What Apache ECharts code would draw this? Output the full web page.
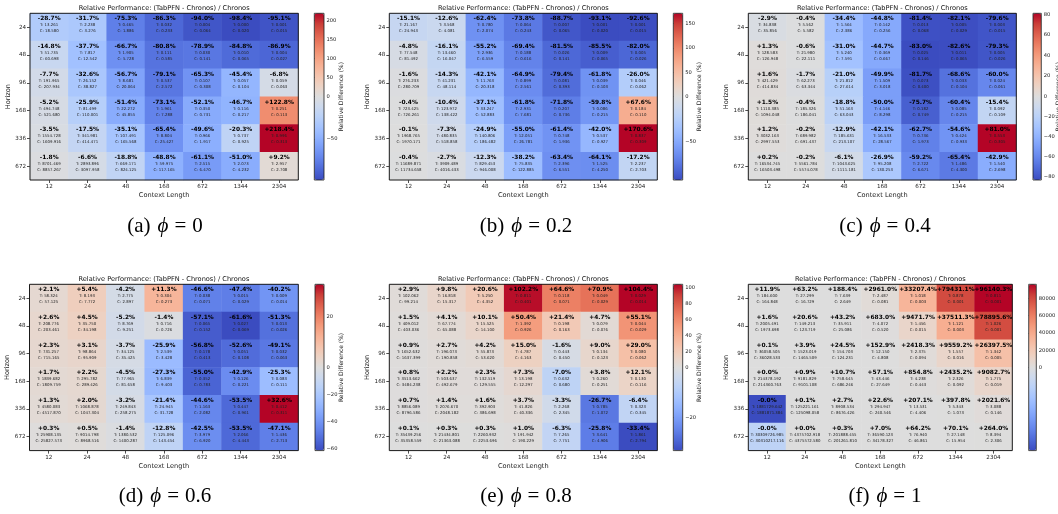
<!DOCTYPE html>
<html><head><meta charset="utf-8">
<script src="https://cdn.jsdelivr.net/npm/echarts@6/dist/echarts.min.js"></script>
<style>html,body{margin:0;padding:0;background:#fff}#c{width:1058px;height:514px}</style>
</head><body><div id="c"></div>
<script>
// ---------------- DATA ----------------
const contextLengths = ['12','24','48','168','672','1344','2304'];
const horizons = ['24','48','96','168','336','672'];
const phiLabels = ['0','0.2','0.4','0.6','0.8','1'];
const panelLetters = ['a','b','c','d','e','f'];
const chartTitle = 'Relative Performance: (TabPFN - Chronos) / Chronos';

// relative difference (%), rows = horizons, cols = context lengths
const pct_phi0 = [
 [-28.7,-31.7,-75.3,-86.3,-94.0,-98.4,-95.1],
 [-14.8,-37.7,-66.7,-80.8,-78.9,-84.8,-86.9],
 [-7.7,-32.6,-56.7,-79.1,-65.3,-45.4,-6.8],
 [-5.2,-25.9,-51.4,-73.1,-52.1,-46.7,122.8],
 [-3.5,-17.5,-35.1,-65.4,-49.6,-20.3,218.4],
 [-1.8,-6.6,-18.8,-48.8,-61.1,-51.0,9.2]];
const T_phi0 = [
 [13.261,2.238,0.465,0.032,0.004,0.000,0.001],
 [51.735,7.817,1.905,0.111,0.030,0.010,0.004],
 [191.965,26.152,8.681,0.537,0.107,0.057,0.059],
 [494.748,81.499,22.272,1.961,0.350,0.116,0.251],
 [1554.728,341.981,107.491,8.804,0.966,0.737,0.996],
 [8701.469,2893.896,669.171,59.975,2.515,2.073,2.957]];
const C_phi0 = [
 [18.580,3.276,1.886,0.233,0.064,0.020,0.015],
 [60.698,12.542,5.728,0.585,0.141,0.065,0.027],
 [207.934,38.827,20.064,2.572,0.308,0.104,0.063],
 [521.680,110.001,45.855,7.288,0.731,0.217,0.113],
 [1609.916,414.471,165.568,25.427,1.917,0.925,0.313],
 [8857.267,3097.958,824.125,117.165,6.470,4.232,2.708]];

const pct_phi02 = [
 [-15.1,-12.6,-62.4,-73.8,-88.7,-93.1,-92.6],
 [-4.8,-16.1,-55.2,-69.4,-81.5,-85.5,-82.0],
 [-1.6,-14.3,-42.1,-64.9,-79.4,-61.8,-26.0],
 [-0.4,-10.4,-37.1,-61.8,-71.8,-59.8,67.6],
 [-0.1,-7.3,-24.9,-55.0,-61.4,-42.0,170.6],
 [-0.4,-2.7,-12.3,-38.2,-63.4,-64.1,-17.2]];
const T_phi02 = [
 [21.167,3.568,0.780,0.064,0.007,0.001,0.001],
 [77.548,13.460,2.936,0.188,0.026,0.009,0.005],
 [276.233,41.231,11.763,0.899,0.081,0.039,0.046],
 [723.425,123.972,33.247,2.931,0.207,0.086,0.184],
 [1968.765,480.835,140.806,12.051,0.748,0.537,0.837],
 [11689.871,3909.489,829.453,75.835,2.396,1.525,2.237]];
const C_phi02 = [
 [24.943,4.081,2.074,0.243,0.065,0.020,0.015],
 [81.492,16.047,6.559,0.616,0.141,0.065,0.026],
 [280.709,48.114,20.318,2.561,0.393,0.103,0.062],
 [726.261,138.422,52.883,7.681,0.736,0.215,0.110],
 [1970.171,518.858,186.482,26.781,1.936,0.927,0.309],
 [11734.658,4016.433,946.008,122.885,6.551,4.250,2.703]];

const pct_phi04 = [
 [-2.9,-0.4,-34.4,-44.8,-81.4,-82.1,-79.6],
 [1.3,-0.6,-31.0,-44.7,-83.0,-82.6,-79.3],
 [1.6,-1.7,-21.0,-49.9,-81.7,-68.6,-60.0],
 [1.5,-0.4,-18.8,-50.0,-75.7,-60.4,-15.4],
 [1.2,-0.2,-12.9,-42.1,-62.7,-54.6,81.0],
 [0.2,-0.2,-6.1,-26.9,-59.2,-65.4,-42.9]];
const T_phi04 = [
 [34.838,5.562,1.564,0.142,0.013,0.005,0.003],
 [128.583,21.980,5.240,0.369,0.025,0.011,0.005],
 [421.429,62.273,21.812,1.509,0.073,0.033,0.024],
 [1110.385,185.326,51.163,4.146,0.182,0.085,0.092],
 [3032.163,689.982,185.631,16.533,0.736,0.424,0.553],
 [16534.745,5561.784,1043.625,95.208,2.722,1.486,1.540]];
const C_phi04 = [
 [35.856,5.582,2.386,0.256,0.068,0.029,0.015],
 [126.948,22.111,7.591,0.667,0.146,0.065,0.026],
 [414.834,63.344,27.614,3.018,0.400,0.104,0.061],
 [1094.048,186.041,63.043,8.298,0.749,0.215,0.109],
 [2997.553,691.437,213.107,28.567,1.973,0.933,0.305],
 [16503.498,5574.078,1111.181,130.253,6.671,4.300,2.698]];

const pct_phi06 = [
 [2.1,5.4,-4.2,11.3,-46.6,-47.4,-40.2],
 [2.6,4.5,-5.2,-1.4,-57.1,-61.6,-51.3],
 [2.3,3.1,-3.7,-25.9,-56.8,-52.6,-49.1],
 [1.7,2.2,-4.5,-27.3,-55.0,-42.9,-25.3],
 [1.3,2.0,-3.2,-21.4,-44.6,-53.5,32.6],
 [0.3,0.5,-1.4,-12.8,-42.5,-53.5,-47.1]];
const T_phi06 = [
 [58.324,8.193,2.775,0.304,0.038,0.015,0.009],
 [208.776,35.750,8.769,0.716,0.065,0.027,0.013],
 [731.257,98.864,34.125,2.539,0.178,0.051,0.032],
 [1839.682,295.782,77.965,6.839,0.352,0.126,0.083],
 [4580.083,1068.878,249.843,24.945,1.163,0.447,0.412],
 [25908.135,9014.798,1380.532,125.096,3.979,2.066,1.436]];
const C_phi06 = [
 [57.125,7.772,2.897,0.273,0.071,0.029,0.014],
 [203.461,34.198,9.251,0.726,0.152,0.069,0.026],
 [715.165,95.909,35.425,3.428,0.413,0.108,0.063],
 [1809.759,289.426,81.658,9.403,0.783,0.221,0.111],
 [4517.870,1047.304,258.275,31.728,2.082,0.961,0.311],
 [25827.573,8968.516,1400.287,143.454,6.920,4.443,2.713]];

const pct_phi08 = [
 [2.9,9.8,20.6,102.2,64.6,70.9,104.4],
 [1.5,4.1,10.1,50.4,21.4,4.7,55.1],
 [0.9,2.7,4.2,15.0,-1.6,9.0,29.0],
 [0.8,2.2,2.3,7.3,-7.0,3.8,12.1],
 [0.7,1.4,1.6,3.7,-3.3,-26.7,-6.4],
 [0.1,0.3,0.3,1.0,-6.3,-25.8,-33.4]];
const T_phi08 = [
 [102.062,16.818,5.250,0.811,0.118,0.049,0.029],
 [409.012,67.774,15.525,1.392,0.198,0.079,0.044],
 [1652.632,196.073,55.873,4.787,0.443,0.134,0.080],
 [3513.662,503.637,132.519,13.198,0.632,0.260,0.130],
 [8856.089,2076.670,392.903,41.826,2.268,0.785,0.323],
 [35439.256,21434.801,2260.932,191.942,7.265,3.641,1.861]];
const C_phi08 = [
 [99.214,15.317,4.352,0.401,0.071,0.029,0.014],
 [403.036,65.088,14.100,0.926,0.163,0.076,0.029],
 [1637.399,190.858,53.620,4.163,0.450,0.123,0.062],
 [3484.238,492.679,129.555,12.297,0.680,0.251,0.116],
 [8796.586,2048.182,386.698,40.336,2.345,1.072,0.345],
 [35358.559,21363.088,2253.696,190.229,7.751,4.906,2.794]];

const pct_phi1 = [
 [11.9,63.2,188.4,2961.0,33207.4,79431.1,96140.3],
 [1.6,20.6,43.2,683.0,9471.7,37511.3,78895.6],
 [0.1,3.9,24.5,152.9,2418.3,9559.2,26397.5],
 [0.008,0.9,10.7,57.1,854.8,2435.2,9082.7],
 [-0.0075,0.1,2.7,22.6,207.1,397.8,2021.6],
 [-0.0016,0.003,0.3,7.0,64.2,70.1,264.0]];
const T_phi1 = [
 [184.600,27.299,7.639,2.487,1.018,0.878,0.811],
 [2005.491,149.213,35.911,4.072,1.456,1.121,1.026],
 [36058.505,1523.019,154.703,12.150,2.375,1.557,1.342],
 [214378.192,9181.829,758.645,43.446,4.238,2.326,1.775],
 [1881729.642,125221.161,8908.534,294.947,13.531,5.343,3.088],
 [30309726.985,4375702.918,201888.455,36590.123,76.940,27.148,8.394]];
const C_phi1 = [
 [164.848,16.729,2.649,0.081,0.003,0.001,0.001],
 [1973.698,123.719,25.086,0.520,0.015,0.003,0.001],
 [36028.533,1465.509,124.231,4.808,0.094,0.016,0.005],
 [214360.763,9101.108,686.246,27.649,0.443,0.092,0.019],
 [1881871.384,125098.058,8676.426,240.546,4.406,1.073,0.146],
 [30310217.116,4375572.580,201261.810,34178.327,46.861,15.954,2.306]];

// colorbar tick labels
const cbTicks_phi0 = [-50,0,50,100,150,200];
const cbTicks_phi02 = [-50,0,50,100,150];
const cbTicks_phi04 = [-80,-60,-40,-20,0,20,40,60,80];
const cbTicks_phi06 = [-60,-40,-20,0,20];
const cbTicks_phi08 = [-20,0,20,40,60,80,100];
const cbTicks_phi1 = [0,20000,40000,60000,80000];

// ---------------- LAYOUT / STYLE ----------------
const coolwarm = ['#3b4cc0','#4d68d7','#6282ea','#779af7','#8db0fe','#a3c2ff','#b8d0f9','#ccd9ee',
  '#dddddd','#ecd3c5','#f5c4ad','#f7b194','#f49a7b','#ec7f63','#de604d','#cb3e38','#b40426'];
const FONT = 'DejaVu Sans';
const TOP1 = 13.3, H1 = 166.7, TOP2 = 284.3, H2 = 166.3;
const panels = [
 {pct:pct_phi0, T:T_phi0, C:C_phi0, ticks:cbTicks_phi0, g:[30,TOP1,268.3,H1], cb:[314.3,9.7], cap:[165,226]},
 {pct:pct_phi02, T:T_phi02, C:C_phi02, ticks:cbTicks_phi02, g:[389.3,TOP1,268,H1], cb:[673.3,9.4], cap:[526,226]},
 {pct:pct_phi04, T:T_phi04, C:C_phi04, ticks:cbTicks_phi04, g:[748.3,TOP1,268,H1], cb:[1033,8.3], cap:[885,226]},
 {pct:pct_phi06, T:T_phi06, C:C_phi06, ticks:cbTicks_phi06, g:[29.5,TOP2,268.8,H2], cb:[315,9], cap:[165,496]},
 {pct:pct_phi08, T:T_phi08, C:C_phi08, ticks:cbTicks_phi08, g:[389.3,TOP2,268,H2], cb:[673.3,9.4], cap:[526,496]},
 {pct:pct_phi1, T:T_phi1, C:C_phi1, ticks:cbTicks_phi1, g:[748.3,TOP2,264,H2], cb:[1028.7,7.6], cap:[885,496]}
];

const fmtPct = v => (v >= 0 ? '+' : '') + v.toFixed(1) + '%';
const fmtTick = v => (v < 0 ? '\u2212' + Math.abs(v) : String(v));

const grids = [], xAxes = [], yAxes = [], series = [], visualMaps = [], graphics = [];
panels.forEach((P, i) => {
  const flat = P.pct.flat();
  const vmin = Math.min(...flat), vmax = Math.max(...flat);
  const norm = v => v >= 0 ? v / vmax : v / (-vmin);
  const [gl, gt, gw, gh] = P.g;
  const [cl, cw] = P.cb;
  grids.push({left:gl, top:gt, width:gw, height:gh, show:true, z:5, backgroundColor:'transparent',
    borderColor:'#1a1a1a', borderWidth:1, containLabel:false, outerBoundsMode:'none'});
  grids.push({left:cl, top:gt, width:cw, height:gh, show:true, z:5, backgroundColor:'transparent',
    borderColor:'#1a1a1a', borderWidth:0.8, containLabel:false, outerBoundsMode:'none'});
  xAxes.push({gridIndex:2*i, type:'category', data:contextLengths, position:'bottom',
    axisLine:{show:false}, axisTick:{show:true, alignWithLabel:true, length:3, lineStyle:{color:'#222', width:0.8}},
    axisLabel:{fontSize:5.6, color:'#222', fontFamily:FONT, margin:4},
    name:'Context Length', nameLocation:'middle', nameGap:12,
    nameTextStyle:{fontSize:6.6, color:'#222', fontFamily:FONT}, splitLine:{show:false}});
  xAxes.push({gridIndex:2*i+1, type:'value', show:false, min:0, max:1});
  yAxes.push({gridIndex:2*i, type:'category', data:horizons, inverse:true,
    axisLine:{show:false}, axisTick:{show:true, alignWithLabel:true, length:3, lineStyle:{color:'#222', width:0.8}},
    axisLabel:{fontSize:5.6, color:'#222', fontFamily:FONT, margin:4},
    name:'Horizon', nameLocation:'middle', nameGap:15, nameRotate:90,
    nameTextStyle:{fontSize:6.6, color:'#222', fontFamily:FONT}, splitLine:{show:false}});
  const tickNorm = P.ticks.map(norm);
  yAxes.push({gridIndex:2*i+1, type:'value', position:'right', min:-1, max:1,
    axisLine:{show:false}, splitLine:{show:false},
    axisTick:{show:true, length:2, customValues:tickNorm, lineStyle:{color:'#222', width:0.8}},
    axisLabel:{show:true, customValues:tickNorm, fontSize:5.2, color:'#222', fontFamily:FONT, margin:2.5,
      hideOverlap:false,
      formatter: v => { const raw = v >= 0 ? v * vmax : v * (-vmin); return fmtTick(Math.round(raw)); }},
    name:'Relative Difference (%)', nameLocation:'middle', nameRotate:90, nameGap: (i===5 ? 24 : 14),
    nameMoveOverlap:false,
    nameTextStyle:{fontSize:6, color:'#222', fontFamily:FONT}});
  const data = [];
  P.pct.forEach((row, yi) => row.forEach((v, xi) => {
    data.push([xi, yi, norm(v), v, P.T[yi][xi], P.C[yi][xi]]);
  }));
  series.push({type:'heatmap', xAxisIndex:2*i, yAxisIndex:2*i, data,
    itemStyle:{borderWidth:0}, emphasis:{disabled:true},
    label:{show:true, offset:[0,-2.5], fontFamily:FONT,
      formatter: p => '{p|' + fmtPct(p.data[3]) + '}\n{t|T: ' + p.data[4].toFixed(3) + '}\n{c|C: ' + p.data[5].toFixed(3) + '}',
      rich:{
        p:{fontSize:5.9, fontWeight:'bold', color:'#000', lineHeight:7, fontFamily:FONT, align:'center'},
        t:{fontSize:3.9, color:'#222', lineHeight:6, fontFamily:FONT, align:'center'},
        c:{fontSize:3.9, color:'#222', lineHeight:6, fontFamily:FONT, align:'center'}
      }}});
  visualMaps.push({type:'continuous', seriesIndex:i, dimension:2, min:-1, max:1, calculable:false, show:true,
    orient:'vertical', left:cl, top:gt, itemWidth:cw, itemHeight:gh, padding:0, text:null, showLabel:false,
    hoverLink:false, inRange:{color:coolwarm}});
  graphics.push({type:'text', x: gl + gw/2, y: gt - 5, style:{text:chartTitle, fontSize:6.6, fontFamily:FONT,
    fill:'#111', align:'center', verticalAlign:'middle', textAlign:'center', textVerticalAlign:'middle'}});
  const SER = 'Liberation Serif, DejaVu Serif';
  graphics.push({type:'text', x: P.cap[0], y: P.cap[1], style:{
    text:'{n|(' + panelLetters[i] + ')}{i|\u03d5}{e|=}{n|' + phiLabels[i] + '}',
    align:'center', verticalAlign:'middle', textAlign:'center', textVerticalAlign:'middle',
    rich:{n:{fontSize:21, fontFamily:SER, fill:'#000'},
          e:{fontSize:21, fontFamily:SER, fill:'#000', padding:[0,6,0,6]},
          i:{fontSize:21, fontStyle:'italic', fontWeight:'normal', fontFamily:SER, fill:'#000', padding:[0,0,0,7]}}}});
});

const chart = echarts.init(document.getElementById('c'), null, {renderer:'canvas'});
chart.setOption({animation:false, backgroundColor:'#fff', grid:grids, xAxis:xAxes, yAxis:yAxes,
  visualMap:visualMaps, series, graphic:graphics, tooltip:{show:false}});
</script></body></html>
